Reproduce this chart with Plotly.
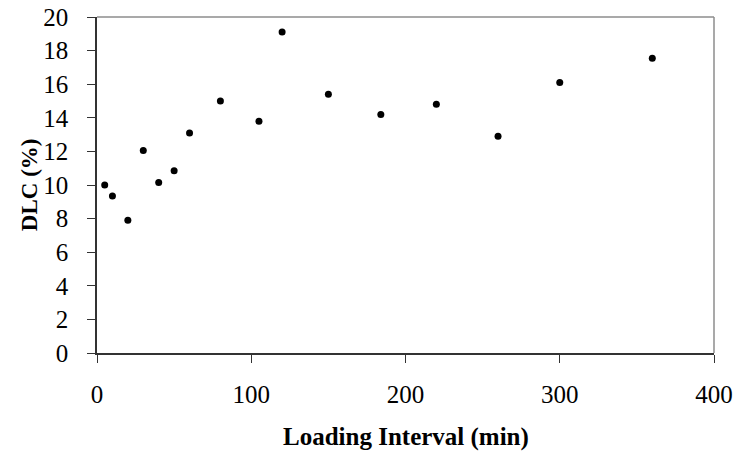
import plotly.graph_objects as go

loading_interval_min = [5, 10, 20, 30, 40, 50, 60, 80, 105, 120, 150, 184, 220, 260, 300, 360]
dlc_percent = [10.0, 9.35, 7.9, 12.05, 10.15, 10.85, 13.1, 15.0, 13.8, 19.1, 15.4, 14.2, 14.8, 12.9, 16.1, 17.55]

x_ticks = [0, 100, 200, 300, 400]
y_ticks = [0, 2, 4, 6, 8, 10, 12, 14, 16, 18, 20]

FONT = "Liberation Serif, Times New Roman, serif"

fig = go.Figure()
fig.add_trace(go.Scatter(
    x=loading_interval_min, y=dlc_percent, mode="markers",
    marker=dict(color="black", size=7, symbol="circle"),
    showlegend=False, hoverinfo="x+y",
))

fig.update_layout(
    width=735, height=456,
    margin=dict(l=97, r=21, t=17, b=103),
    paper_bgcolor="white", plot_bgcolor="white",
    font=dict(family=FONT, size=25, color="black"),
    xaxis=dict(
        range=[0, 400], tickvals=x_ticks, ticks="outside", ticklen=8, tickwidth=1,
        tickcolor="#333333", showline=True, linecolor="#333333", linewidth=1.5,
        showgrid=False, zeroline=False, ticklabelstandoff=10, automargin=False,
        tickfont=dict(family=FONT, size=25, color="black"),
    ),
    yaxis=dict(
        range=[0, 20], tickvals=y_ticks, ticks="outside", ticklen=8, tickwidth=1,
        tickcolor="#333333", showline=True, linecolor="#333333", linewidth=1.5,
        showgrid=False, zeroline=False, ticklabelstandoff=14, automargin=False,
        tickfont=dict(family=FONT, size=25, color="black"),
    ),
    shapes=[
        dict(type="line", xref="paper", yref="paper", x0=0, x1=1, y0=1, y1=1,
             line=dict(color="#8c8c8c", width=1.5)),
        dict(type="line", xref="paper", yref="paper", x0=1, x1=1, y0=0, y1=1,
             line=dict(color="#8c8c8c", width=1.5)),
    ],
    annotations=[
        dict(text="<b>Loading Interval (min)</b>", xref="paper", yref="paper",
             x=0.5, y=-0.25, xanchor="center", yanchor="middle", showarrow=False,
             font=dict(family=FONT, size=25, color="black")),
        dict(text="<b>DLC (%)</b>", xref="paper", yref="paper",
             x=-0.110, y=0.5, xanchor="center", yanchor="middle", showarrow=False,
             textangle=-90, font=dict(family=FONT, size=23, color="black")),
    ],
)

# Remove the browser's default 8px body margin so the figure fills the window.
fig.write_html(
    "out.html",
    config={"displayModeBar": False},
    post_script="document.body.style.margin='0';document.body.style.overflow='hidden';",
)
